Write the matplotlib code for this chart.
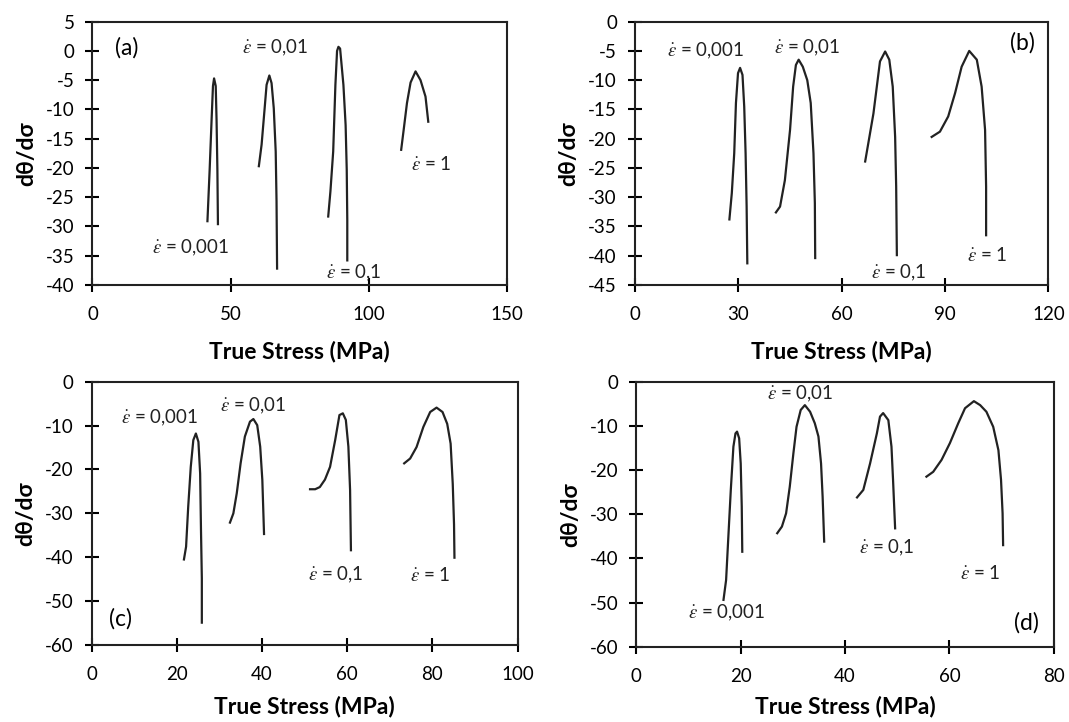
import matplotlib.pyplot as plt

plt.rcParams['font.family'] = ['Lato', 'DejaVu Sans']
plt.rcParams['mathtext.fontset'] = 'stix'
plt.rcParams['axes.unicode_minus'] = False

rates = ['0,001', '0,01', '0,1', '1']

# panel (a)
a_x = [[41.6, 42.4, 43.1, 43.6, 44.0, 44.6, 44.9, 45.2, 45.4],
       [60.2, 61.2, 62.3, 63.0, 64.0, 64.8, 65.6, 66.3, 66.6, 66.8],
       [85.3, 86.1, 87.1, 87.9, 88.5, 89.0, 89.6, 90.8, 91.6, 92.0, 92.2, 92.2],
       [111.7, 112.6, 113.8, 115.1, 116.9, 118.7, 120.5, 121.5]]
a_y = [[-29.1, -20.3, -11.8, -6.0, -4.7, -6.0, -11.8, -20.3, -29.6],
       [-19.7, -16.0, -9.8, -5.8, -4.2, -5.5, -9.8, -17.2, -25.7, -37.2],
       [-28.3, -24.0, -17.2, -5.8, 0.0, 0.7, 0.4, -5.8, -12.7, -20.3, -28.9, -35.8],
       [-16.9, -13.5, -8.9, -5.4, -3.5, -5.0, -7.8, -12.1]]
a_lab = [(35.4, -33.7), (66.0, 0.5), (94.4, -38.0), (122.6, -19.3)]

# panel (b)
b_x = [[27.4, 28.1, 28.8, 29.3, 29.9, 30.5, 31.2, 31.7, 32.1, 32.4, 32.6],
       [40.9, 42.1, 43.5, 45.0, 45.9, 46.7, 47.5, 48.7, 50.0, 51.0, 51.8, 52.2, 52.3],
       [66.8, 69.2, 71.1, 72.6, 73.8, 74.8, 75.5, 75.8, 76.0],
       [86.1, 88.5, 90.9, 92.9, 94.8, 97.0, 99.2, 100.6, 101.6, 101.9, 101.9]]
b_y = [[-33.8, -29.3, -22.5, -13.9, -8.8, -7.9, -9.1, -14.5, -22.5, -31.6, -41.3],
       [-32.6, -31.6, -27.1, -18.5, -11.1, -7.4, -6.5, -7.7, -10.0, -13.9, -22.5, -31.0, -40.4],
       [-23.9, -15.7, -6.8, -5.1, -6.5, -11.1, -19.7, -28.2, -39.9],
       [-19.7, -18.8, -16.2, -12.2, -7.7, -5.0, -6.5, -11.1, -18.5, -28.2, -36.5]]
b_lab = [(20.5, -5.0), (50.0, -4.5), (76.6, -43.0), (102.1, -39.9)]

# panel (c)
c_x = [[21.7, 22.2, 22.7, 23.3, 23.9, 24.5, 25.1, 25.5, 25.7, 25.9, 25.9],
       [32.5, 33.3, 34.1, 35.0, 36.0, 37.2, 38.0, 38.9, 39.6, 40.1, 40.5],
       [51.3, 52.5, 53.6, 54.8, 56.0, 57.2, 58.2, 59.0, 59.7, 60.3, 60.7, 60.9],
       [73.4, 74.8, 76.3, 77.9, 79.5, 81.0, 82.4, 83.5, 84.3, 84.8, 85.1, 85.2]]
c_y = [[-40.5, -37.6, -28.5, -19.4, -13.3, -11.8, -13.7, -20.9, -33.8, -44.8, -54.9],
       [-32.1, -30.0, -25.4, -18.6, -12.5, -9.1, -8.5, -9.9, -14.8, -22.4, -34.7],
       [-24.5, -24.5, -24.0, -22.3, -19.4, -13.3, -7.6, -7.2, -8.7, -14.8, -24.7, -38.4],
       [-18.6, -17.5, -14.9, -10.3, -6.9, -5.9, -6.9, -9.6, -14.1, -23.3, -32.5, -40.1]]
c_lab = [(16.1, -8.2), (38.0, -5.5), (57.4, -44.1), (79.6, -44.1)]

# panel (d)
d_x = [[16.7, 17.2, 17.6, 18.1, 18.6, 19.0, 19.3, 19.7, 20.0, 20.2, 20.3],
       [27.0, 27.9, 28.7, 29.4, 30.1, 30.7, 31.5, 32.3, 33.3, 34.2, 34.9, 35.4, 35.7, 36.0],
       [42.3, 43.5, 44.8, 46.1, 46.7, 47.3, 48.3, 48.9, 49.2, 49.6],
       [55.6, 56.9, 58.5, 60.1, 61.7, 63.0, 64.7, 65.9, 67.1, 68.4, 69.4, 69.9, 70.2, 70.3]]
d_y = [[-49.4, -44.9, -35.8, -24.5, -14.7, -11.7, -11.3, -12.8, -18.5, -28.3, -38.5],
       [-34.3, -32.8, -29.8, -23.8, -16.2, -10.2, -6.4, -5.3, -6.8, -9.4, -12.4, -18.5, -26.0, -36.2],
       [-26.2, -24.5, -18.5, -11.7, -7.9, -7.1, -8.7, -14.7, -22.2, -33.2],
       [-21.5, -20.4, -17.7, -13.9, -9.4, -6.0, -4.4, -5.3, -6.8, -10.2, -15.5, -22.2, -29.8, -37.0]]
d_lab = [(17.4, -52.3), (31.4, -2.8), (48.0, -37.7), (65.9, -43.4)]

panels = [
    ('(a)', a_x, a_y, a_lab, (0, 150, 50), (-40, 5, 5), (12.5, 0.5), [0.0865, 0.6053, 0.3878, 0.3647], 13),
    ('(b)', b_x, b_y, b_lab, (0, 120, 30), (-45, 0, 5), (112.5, -3.7), [0.594, 0.6053, 0.3868, 0.3647], 13),
    ('(c)', c_x, c_y, c_lab, (0, 100, 20), (-60, 0, 10), (6.9, -54.0), [0.0856, 0.1066, 0.3985, 0.3647], 9),
    ('(d)', d_x, d_y, d_lab, (0, 80, 20), (-60, 0, 10), (74.8, -54.7), [0.5953, 0.1043, 0.3904, 0.367], 8),
]

fig = plt.figure(figsize=(10.69, 7.22), dpi=100)

for tag, xs, ys, labs, xl, yl, tagpos, rect, xpad in panels:
    ax = fig.add_axes(rect)
    for x, y in zip(xs, ys):
        ax.plot(x, y, color='#222222', lw=1.6, solid_joinstyle='round')
    for r, (lx, ly) in zip(rates, labs):
        ax.text(lx, ly, r'$\dot{\varepsilon}$ = ' + r, fontsize=13.5,
                ha='center', va='center', color='#222222')
    ax.text(tagpos[0], tagpos[1], tag, fontsize=16.5, ha='center', va='center')
    ax.set_xlim(xl[0], xl[1])
    ax.set_ylim(yl[0], yl[1])
    ax.set_xticks(range(xl[0], xl[1] + 1, xl[2]))
    ax.set_yticks(range(yl[0], yl[1] + 1, yl[2]))
    ax.tick_params(direction='inout', length=10, width=1.5, labelsize=13.5, pad=8)
    ax.tick_params(axis='x', pad=10)
    for s in ax.spines.values():
        s.set_linewidth(1.5)
        s.set_color('#222222')
    ax.set_xlabel('True Stress (MPa)', fontsize=16.5, fontweight='bold', labelpad=xpad)
    ax.set_ylabel('dθ/dσ', fontsize=16.5, fontweight='bold', labelpad=6)

fig.savefig('out.png', dpi=100)
